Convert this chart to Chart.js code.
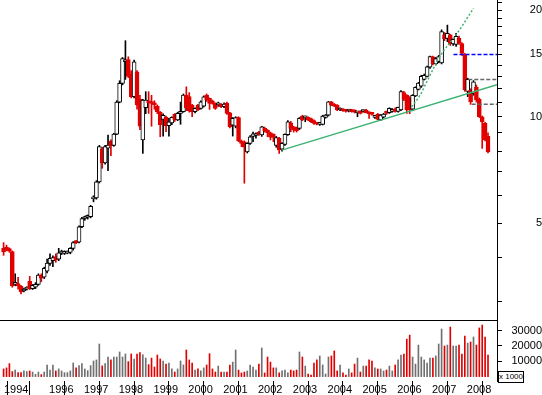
<!DOCTYPE html>
<html><head><meta charset="utf-8">
<script src="https://cdn.jsdelivr.net/npm/chart.js@4.4.1/dist/chart.umd.min.js"></script>
<style>
html,body{margin:0;padding:0;background:#fff;width:542px;height:395px;overflow:hidden}
#wrap{position:relative;width:542px;height:395px}
canvas{position:absolute;left:0}
#c1{top:0}#c2{top:320px}
#unit{position:absolute;left:498px;top:371px;width:24px;height:10px;border:1px solid #000;background:#fff;font:8px "Liberation Sans",Arial,sans-serif;line-height:10px;text-align:center;color:#000;white-space:nowrap}
</style></head><body>
<div id="wrap">
<canvas id="c1" width="542" height="320"></canvas>
<canvas id="c2" width="542" height="75"></canvas>
<div id="unit">x 1000</div>
</div>
<script>
// Monthly candles, Oct 1994 (index 0) .. Sep 2008 (index 167)
const opens = [
4.25,4.27,4.24,4.16,3.36,3.38,3.32,3.22,3.26,3.43,3.27,3.30,
3.36,3.57,3.52,3.66,3.85,3.92,4.03,3.96,4.12,4.11,4.12,4.14,
4.25,4.44,4.42,4.89,5.16,5.20,5.22,5.86,5.90,6.55,8.10,7.40,
8.15,8.54,8.30,8.93,11.00,12.43,14.30,14.50,13.25,11.40,13.40,11.20,
8.60,10.60,11.02,11.00,10.95,10.72,10.30,9.83,9.96,9.43,9.60,10.16,
9.80,10.22,10.33,11.50,11.40,10.79,10.33,10.79,10.56,10.72,11.51,11.27,
11.10,10.91,10.80,10.86,10.67,10.91,10.26,9.47,9.40,9.94,8.54,8.50,
7.96,8.41,8.80,8.85,9.03,8.88,9.27,9.15,9.00,8.93,8.30,8.69,
8.10,8.35,8.90,9.62,9.37,9.30,9.27,10.05,9.93,9.96,9.88,9.75,
9.58,9.52,9.52,9.95,10.11,11.02,10.86,10.79,10.45,10.51,10.45,10.38,
10.45,10.44,10.26,10.37,10.35,10.45,10.33,10.22,9.96,10.18,9.79,9.98,
10.33,10.27,10.35,10.50,10.35,10.45,11.70,11.50,11.30,10.50,11.45,11.95,
12.20,12.75,13.00,13.80,14.77,14.10,14.30,14.20,17.05,16.65,17.05,16.05,
16.00,16.65,16.10,15.00,11.80,11.90,11.64,12.10,11.20,10.00,9.60,8.80];
const highs = [
4.41,4.34,4.26,4.18,3.60,3.52,3.34,3.28,3.31,3.54,3.36,3.40,
3.60,3.60,3.76,3.96,4.10,4.05,4.10,4.25,4.20,4.18,4.18,4.27,
4.44,4.47,4.92,5.20,5.24,5.28,5.62,5.98,6.60,8.30,8.20,8.30,
8.88,8.60,8.98,11.10,12.64,14.70,16.40,14.77,13.50,14.45,13.50,11.50,
11.20,11.77,11.77,11.50,11.10,10.80,10.35,10.20,10.05,9.90,10.00,10.20,
10.30,11.00,11.60,12.15,11.70,10.85,10.60,10.85,11.10,11.45,11.60,11.30,
11.15,10.95,11.00,10.90,10.95,11.00,10.30,9.95,10.00,10.00,8.60,8.55,
8.45,8.85,9.05,9.00,9.10,9.40,9.35,9.20,9.05,8.95,8.80,8.75,
8.45,8.95,9.75,9.70,9.40,9.35,9.95,10.10,10.05,10.00,9.92,9.80,
9.62,9.62,10.10,10.15,11.05,11.05,10.90,10.82,10.60,10.55,10.48,10.48,
10.50,10.47,10.36,10.40,10.45,10.50,10.35,10.25,10.08,10.22,10.15,10.22,
10.38,10.60,10.55,10.60,10.65,11.85,11.80,11.55,11.40,11.55,12.15,12.50,
13.10,13.20,13.90,14.85,14.85,14.70,14.90,17.60,17.30,18.15,17.10,16.60,
17.20,16.90,16.20,15.10,12.85,12.00,12.65,12.30,11.30,10.05,9.65,9.00];
const lows = [
4.06,4.18,4.14,3.30,3.33,3.26,3.16,3.20,3.24,3.25,3.25,3.27,
3.34,3.42,3.49,3.62,3.80,3.77,3.88,3.92,4.08,4.08,4.10,4.10,
4.20,4.38,4.40,4.86,5.10,5.14,5.18,5.75,5.85,6.50,7.15,7.35,
7.04,7.76,8.25,8.90,10.95,12.30,12.75,12.90,11.30,11.30,10.50,9.20,
7.88,10.20,10.22,9.40,10.50,10.20,8.78,8.82,9.07,8.82,9.50,9.70,
9.75,9.52,10.30,10.40,10.30,10.00,10.25,10.40,10.50,10.65,11.05,10.49,
10.85,10.49,10.70,10.60,10.60,10.15,9.30,8.82,9.30,8.50,8.23,6.49,
7.90,8.35,8.50,8.70,8.85,8.80,9.05,8.78,8.60,8.50,8.20,7.88,
8.00,8.30,8.85,9.07,9.05,9.05,9.20,9.75,9.68,9.75,9.62,9.52,
9.48,9.45,9.48,9.90,10.05,10.75,10.68,10.40,10.40,10.35,10.30,10.32,
10.30,10.25,10.00,10.18,10.30,10.25,9.90,10.10,9.90,9.80,9.75,9.92,
10.15,10.22,10.30,10.30,10.30,10.40,11.10,10.22,10.20,10.40,11.40,11.90,
12.10,12.70,12.95,13.70,14.00,14.00,14.20,14.10,16.40,16.30,15.90,15.90,
15.80,16.00,14.90,11.80,11.40,10.84,11.50,11.00,9.95,8.14,8.55,7.90];
const closes = [
4.15,4.22,4.17,3.33,3.39,3.33,3.20,3.26,3.29,3.27,3.34,3.36,
3.57,3.50,3.73,3.86,3.98,4.00,3.95,4.13,4.16,4.15,4.16,4.25,
4.41,4.41,4.89,5.16,5.20,5.22,5.58,5.94,6.55,8.23,7.40,8.23,
8.32,8.28,8.93,11.00,12.43,14.60,14.45,13.00,11.40,14.30,10.80,9.40,
11.15,11.15,10.95,10.90,10.80,10.33,9.50,10.10,9.43,9.68,9.96,9.80,
10.22,10.33,11.51,10.60,10.40,10.33,10.56,10.45,11.02,11.39,11.15,10.91,
10.91,10.56,10.95,10.67,10.86,10.22,9.37,9.90,9.94,8.54,8.41,8.20,
8.41,8.78,8.95,8.97,8.93,9.37,9.13,9.00,8.75,8.74,8.74,8.06,
8.41,8.92,9.68,9.27,9.20,9.13,9.90,9.80,9.97,9.79,9.68,9.58,
9.53,9.58,10.05,10.11,11.02,10.79,10.72,10.45,10.56,10.40,10.36,10.44,
10.34,10.30,10.33,10.22,10.40,10.27,10.18,10.16,10.05,9.83,10.11,10.18,
10.22,10.56,10.50,10.36,10.63,11.77,11.20,10.45,10.45,11.50,12.10,12.45,
13.00,13.10,13.84,14.80,14.10,14.60,14.80,17.40,16.60,17.20,16.05,16.54,
16.86,16.10,15.10,11.90,12.75,11.02,12.55,11.15,10.00,9.68,8.60,7.96];
const volumes = [
5000,5700,8500,3300,4300,2600,2600,3700,3300,3700,3000,1500,
3000,1300,3000,7600,4300,7600,3700,5000,3700,2600,2600,3700,
8900,5700,7200,8500,5000,3900,7200,10200,10900,21300,7000,8500,
12800,10900,12800,12800,16100,12800,14800,9800,14800,11500,14800,15700,
14300,12100,7800,12100,6300,14100,11500,10200,8200,8900,5000,3000,
5000,10200,7600,17400,10900,8900,4300,5000,3700,5700,7600,15000,
5000,3000,6900,3000,3000,3000,7600,9500,17400,4300,2400,3000,
3700,7600,6300,4300,8200,18700,2400,12800,9500,5700,5700,2400,
3700,4300,2400,4300,3700,4300,16100,12800,6900,1700,1000,8900,
10900,13500,7600,1700,12800,13500,16800,3700,7600,2400,1000,5000,
2400,8200,12100,3000,6900,6900,10900,10200,5700,5000,5000,3700,
4300,6900,3700,7600,10900,14100,14800,24500,27100,12800,8200,20600,
12800,10900,8900,12100,12100,13500,21300,31100,20000,20600,32400,20000,
20000,20600,14800,26500,21900,22600,25900,20600,31800,33700,25900,14100];

// Axis ticks (x = month index)
const yearTickValues = [-0.55,3,15,27,39,51,63,75,87,99,111,123,135,147,159];
const yearLabels = ['1994','','1996','1997','1998','1999','2000','2001','2002','2003','2004','2005','2006','2007','2008'];
const priceTicks = [3,4,5,6,7,8,9,10,11,12,13,14,15,16,17,18,19,20,21];
const priceLabelled = [5,10,15,20];
const volumeTicks = [10000,20000,30000];

// Drawn studies (month index, price)
const supportX = [95.9,170.1];  const supportY = [8.05,12.31];
const curveX = [140.7,143.6,145.9,148.2,151.1,155.7,162.0];
const curveY = [10.67,11.52,12.56,13.70,15.11,16.90,20.24];
const blueX = [155.1,170.1];    const blueY = [15,15];
const grayAX = [160.2,170.1];   const grayAY = [12.75,12.75];
const grayBX = [161.4,170.1];   const grayBY = [10.84,10.84];

const RED = '#e00000', BLACK = '#000000', VOLGRAY = '#707070';
const X_MIN = -1.24, X_MAX = 170.1;
Chart.defaults.font.family = '"Liberation Sans", Arial, sans-serif';
Chart.defaults.font.size = 11;
Chart.defaults.color = '#000';

const isDown = i => closes[i] < opens[i];
const pts = (xs, ys) => xs.map((x, k) => ({x, y: ys[k]}));
const wickData = opens.map((o, i) => ({x: i, y: [lows[i], highs[i]]}));
const bodyData = opens.map((o, i) => ({x: i, y: [Math.min(o, closes[i]), Math.max(o, closes[i])]}));
const volData = volumes.map((v, i) => ({x: i, y: v}));

const lineDs = (data, color, dash, extra) => Object.assign({
  type: 'line', data, borderColor: color, borderWidth: 1.5, borderDash: dash,
  pointRadius: 0, fill: false, order: 0, xAxisID: 'x', yAxisID: 'y'
}, extra || {});

new Chart(document.getElementById('c1'), {
  type: 'bar',
  data: { datasets: [
    lineDs(pts(supportX, supportY), '#3cb371', []),
    lineDs(pts(curveX, curveY), '#3cb371', [2, 2], {cubicInterpolationMode: 'monotone'}),
    lineDs(pts(blueX, blueY), '#0000ff', [4, 2]),
    lineDs(pts(grayAX, grayAY), '#666666', [4, 2]),
    lineDs(pts(grayBX, grayBY), '#666666', [4, 2]),
    { data: wickData, xAxisID: 'x', yAxisID: 'y', grouped: false, order: 3,
      barThickness: 1, backgroundColor: c => isDown(c.dataIndex) ? RED : BLACK, borderWidth: 0 },
    { data: bodyData, xAxisID: 'x', yAxisID: 'y', grouped: false, order: 2,
      barThickness: 4, minBarLength: 2, borderSkipped: false, borderWidth: 1,
      backgroundColor: c => isDown(c.dataIndex) ? RED : '#ffffff',
      borderColor: c => isDown(c.dataIndex) ? RED : BLACK }
  ]},
  options: {
    responsive: false, animation: false, devicePixelRatio: 1,
    layout: { padding: 0 },
    plugins: { legend: { display: false }, tooltip: { enabled: false } },
    scales: {
      x: { type: 'linear', min: X_MIN, max: X_MAX, display: false, offset: false },
      y: { type: 'logarithmic', position: 'right', min: 2.666, max: 21.37,
        afterBuildTicks(s) { s.ticks = priceTicks.map(v => ({value: v})); },
        afterFit(s) { s.width = 45; s.paddingTop = 0; s.paddingBottom = 0; },
        ticks: { autoSkip: false, padding: 24, crossAlign: 'far',
          callback: v => priceLabelled.includes(v) ? String(v) : '' },
        grid: { drawOnChartArea: false, drawTicks: true, tickLength: 5, color: BLACK },
        border: { display: true, color: BLACK, width: 1 } }
    }
  }
});

new Chart(document.getElementById('c2'), {
  type: 'bar',
  data: { datasets: [
    { data: volData, xAxisID: 'x', yAxisID: 'y', grouped: false, barThickness: 1, borderWidth: 0,
      backgroundColor: c => isDown(c.dataIndex) ? RED : VOLGRAY }
  ]},
  options: {
    responsive: false, animation: false, devicePixelRatio: 1,
    layout: { padding: 0 },
    plugins: { legend: { display: false }, tooltip: { enabled: false } },
    scales: {
      x: { type: 'linear', position: 'bottom', min: X_MIN, max: X_MAX, offset: false,
        afterBuildTicks(s) { s.ticks = yearTickValues.map(v => ({value: v})); },
        afterFit(s) { s.height = 14; s.paddingLeft = 0; s.paddingRight = 0; },
        ticks: { autoSkip: false, maxRotation: 0, minRotation: 0, align: 'start', labelOffset: 2, padding: -12,
          callback: (v, i) => yearLabels[i] },
        grid: { drawOnChartArea: false, drawTicks: true, tickLength: 14, color: BLACK },
        border: { display: false } },
      xTop: { type: 'linear', position: 'top', axis: 'x', min: X_MIN, max: X_MAX, offset: false,
        afterFit(s) { s.height = 0; s.paddingLeft = 0; s.paddingRight = 0; },
        ticks: { display: false }, grid: { display: false, drawTicks: false },
        border: { display: true, color: BLACK, width: 1 } },
      y: { type: 'linear', position: 'right', min: -2876, max: 36993,
        afterBuildTicks(s) { s.ticks = volumeTicks.map(v => ({value: v})); },
        afterFit(s) { s.width = 45; s.paddingTop = 0; s.paddingBottom = 0; },
        ticks: { autoSkip: false, padding: 5, crossAlign: 'far', callback: v => String(v) },
        grid: { drawOnChartArea: false, drawTicks: true, tickLength: 5, color: BLACK },
        border: { display: true, color: BLACK, width: 1 } }
    }
  }
});
</script>
</body></html>
